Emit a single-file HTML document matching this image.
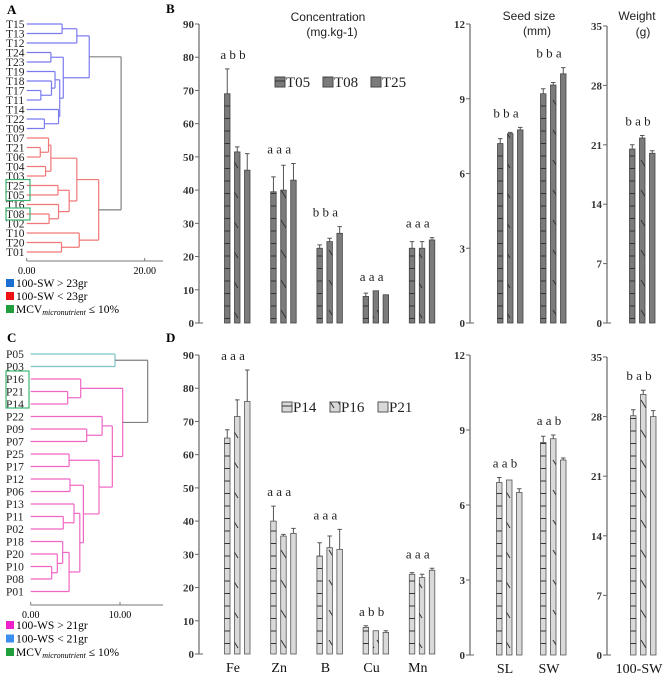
<!DOCTYPE html>
<html><head><meta charset="utf-8">
<style>
html,body{margin:0;padding:0;background:#fff;}
svg{display:block;font-family:"Liberation Serif",serif;}
</style></head>
<body>
<svg id="fig" width="669" height="676" viewBox="0 0 669 676" xmlns="http://www.w3.org/2000/svg">
<defs>
<pattern id="hB" width="8" height="12.5" patternUnits="userSpaceOnUse"><line x1="0" y1="6" x2="8" y2="6" stroke="#333" stroke-width="1"/></pattern>
<pattern id="dB" width="8" height="30" patternUnits="userSpaceOnUse"><line x1="1" y1="10" x2="6" y2="18" stroke="#333" stroke-width="1"/></pattern>
</defs>
<g id="root"></g>
</svg>
<script>
// ---------- Panel B data (T05,T08,T25) ----------
const concCats = ["Fe","Zn","B","Cu","Mn"];
const seriesB = ["T05","T08","T25"];
const concB_T05 = [69, 39.5, 22.5, 8, 22.5];
const concB_T08 = [51.5, 40, 24.5, 9.7, 22.5];
const concB_T25 = [46, 43, 27, 8.5, 25];
const concB_err1 = [7.5, 4.5, 1, 1, 2];
const concB_err2 = [1.5, 7.5, 1, 0, 2];
const concB_err3 = [5, 5, 2, 0, 0.7];
const concB_letters = ["a b b","a a a","b b a","a a a","a a a"];
const sizeCats = ["SL","SW"];
const sizeB_T05 = [7.2, 9.2];
const sizeB_T08 = [7.6, 9.55];
const sizeB_T25 = [7.75, 10];
const sizeB_err1 = [0.2, 0.2];
const sizeB_err2 = [0.05, 0.1];
const sizeB_err3 = [0.1, 0.25];
const sizeB_letters = ["b b a","b b a"];
const weightCats = ["100-SW"];
const weightB_T05 = [20.5];
const weightB_T08 = [21.8];
const weightB_T25 = [20];
const weightB_err1 = [0.5];
const weightB_err2 = [0.3];
const weightB_err3 = [0.3];
const weightB_letters = ["b a b"];
// ---------- Panel D data (P14,P16,P21) ----------
const seriesD = ["P14","P16","P21"];
const concD_P14 = [65, 40, 29.5, 8, 24];
const concD_P16 = [71.5, 35.5, 32, 7, 23];
const concD_P21 = [76, 36.3, 31.5, 6.5, 25.2];
const concD_err1 = [2.5, 4.5, 4, 0.5, 0.5];
const concD_err2 = [5, 0.5, 3.5, 0, 1];
const concD_err3 = [9.5, 1.5, 6, 0.5, 0.6];
const concD_letters = ["a a a","a a a","a a a","a b b","a a a"];
const sizeD_P14 = [6.9, 8.5];
const sizeD_P16 = [7.0, 8.65];
const sizeD_P21 = [6.5, 7.8];
const sizeD_err1 = [0.2, 0.25];
const sizeD_err2 = [0, 0.15];
const sizeD_err3 = [0.15, 0.08];
const sizeD_letters = ["a a b","a a b"];
const weightD_P14 = [28.1];
const weightD_P16 = [30.6];
const weightD_P21 = [28.0];
const weightD_err1 = [0.7];
const weightD_err2 = [0.5];
const weightD_err3 = [0.7];
const weightD_letters = ["b a b"];
const concTicks = [0,10,20,30,40,50,60,70,80,90];
const sizeTicks = [0,3,6,9,12];
const weightTicks = [0,7,14,21,28,35];
// ---------- Dendrogram data: [left, right, height] ----------
const treeA = [[[["T15","T13",6.0],"T12",8.5],[["T24","T23",4.1],[["T19",["T18",["T17","T11",2.4],4.2],4.8],["T14",["T22","T09",3.0],5.4],5.6],6.2],10.6],
  [[[["T07",["T21","T06",2.3],3.7],["T04","T03",3.2],4.1],[["T25","T05",5.3],["T16",["T08","T02",3.8],5.4],7.2],8.5],["T10",["T20","T01",5.9],8.9],12.2],16.0];
const treeC = [["P05","P03",9.44],[["P16",["P21","P14",4.14],5.6],[["P22",["P09","P07",6.27],8.0],[["P25","P17",4.3],[["P12","P06",4.4],[["P13",["P11","P02",3.65],4.85],[["P18",["P20",["P10","P08",2.35],2.98],3.58],"P01",4.3],5.5],5.9],7.65],9.14],10.3],13.1];

const NS = "http://www.w3.org/2000/svg";
const root = document.getElementById("root");
function mk(tag, attrs, parent, text){
  const e = document.createElementNS(NS, tag);
  for (const k in attrs) e.setAttribute(k, attrs[k]);
  if (text !== undefined) e.textContent = text;
  (parent || root).appendChild(e);
  return e;
}

// ---------- dendrogram ----------
function leaves(t){ return typeof t === "string" ? [t] : leaves(t[0]).concat(leaves(t[1])); }
function drawTree(tree, x0, pxPerUnit, yTop, step, colors, g){
  const order = leaves(tree);
  const ypos = {};
  order.forEach((n,i)=>{ ypos[n] = yTop + i*step; });
  function seg(x1,y1,x2,y2,c){
    const l = mk("line",{x1:x1,y1:y1,x2:x2,y2:y2,stroke:c,"stroke-width":1.2},g);
    
    
  }
  function rec(t, c){
    if (typeof t === "string") return {x:x0, y:ypos[t]};
    const a = rec(t[0], c), b = rec(t[1], c);
    const hx = x0 + t[2]*pxPerUnit;
    seg(a.x,a.y,hx,a.y,c);
    seg(b.x,b.y,hx,b.y,c);
    seg(hx,a.y,hx,b.y,c);
    return {x:hx, y:(a.y+b.y)/2};
  }
  const a = rec(tree[0], colors[0]), b = rec(tree[1], colors[1]);
  const hx = x0 + tree[2]*pxPerUnit;
  seg(a.x,a.y,hx,a.y,"#808080");
  seg(b.x,b.y,hx,b.y,"#808080");
  seg(hx,a.y,hx,b.y,"#808080");
  order.forEach(n=>{
    const t = mk("text",{x:6,y:ypos[n]+4,"font-size":11.5,fill:"#222"},g,n);
    
    
  });
  return ypos;
}
const gA = mk("g",{});


mk("text",{x:7,y:14,"font-size":13,"font-weight":"bold"},gA,"A");
const yA = drawTree(treeA, 26.7, 5.9, 24, 9.5, ["#7b7bf0","#f07777"], gA);
mk("rect",{x:6,y:yA["T25"]-6,width:24,height:21,fill:"none",stroke:"#3cb371","stroke-width":1.2},gA);
mk("rect",{x:6,y:yA["T08"]-6,width:24,height:12,fill:"none",stroke:"#3cb371","stroke-width":1.2},gA);
mk("line",{x1:26.7,y1:261,x2:163,y2:261,stroke:"#777"},gA);
[0,20].forEach(v=>{ mk("line",{x1:26.7+v*5.9,y1:258,x2:26.7+v*5.9,y2:261,stroke:"#777"},gA);
  mk("text",{x:26.7+v*5.9,y:274,"font-size":10,"text-anchor":"middle"},gA,v.toFixed(2)); });
const legA = [["#1a6fd1","100-SW > 23gr"],["#ee1111","100-SW < 23gr"],["#1f9e3b","MCV"]];
legA.forEach((l,i)=>{ const y=283+i*13;
  mk("rect",{x:6,y:y-4,width:8,height:8,fill:l[0]},gA);
  const t = mk("text",{x:16,y:y+4,"font-size":11.5},gA);
  
  
  if (i<2) t.textContent=l[1]; else { t.textContent="MCV"; mk("tspan",{"font-size":8,"font-style":"italic","dy":2},t,"micronutrient"); mk("tspan",{"dy":-2},t," \u2264 10%"); }
});

const gC = mk("g",{});


mk("text",{x:7,y:342,"font-size":13,"font-weight":"bold"},gC,"C");
const yC = drawTree(treeC, 30.7, 8.93, 354, 12.5, ["#7cc4c4","#f066c4"], gC);
mk("rect",{x:6,y:yC["P16"]-8,width:23,height:37,fill:"none",stroke:"#3cb371","stroke-width":1.2},gC);
mk("line",{x1:30.7,y1:605,x2:163,y2:605,stroke:"#777"},gC);
[0,10].forEach(v=>{ mk("line",{x1:30.7+v*8.93,y1:602,x2:30.7+v*8.93,y2:605,stroke:"#777"},gC);
  mk("text",{x:30.7+v*8.93,y:618,"font-size":10,"text-anchor":"middle"},gC,v.toFixed(2)); });
const legC = [["#ee22cc","100-WS > 21gr"],["#3a8ff0","100-WS < 21gr"],["#1f9e3b","MCV"]];
legC.forEach((l,i)=>{ const y=625+i*13.5;
  mk("rect",{x:6,y:y-4,width:8,height:8,fill:l[0]},gC);
  const t = mk("text",{x:16,y:y+4,"font-size":11.5},gC);
  
  
  if (i<2) t.textContent=l[1]; else { t.textContent="MCV"; mk("tspan",{"font-size":8,"font-style":"italic","dy":2},t,"micronutrient"); mk("tspan",{"dy":-2},t," \u2264 10%"); }
});

// ---------- bar panels ----------
function barPanel(o){
  const g = mk("g",{});
  
  
  const y = v => o.y0 - (v/o.max)*(o.y0-o.yTop);
  mk("line",{x1:o.ax,y1:o.yTop,x2:o.ax,y2:o.y0,stroke:"#666","stroke-width":1.2},g);
  o.ticks.forEach(t=>{
    mk("line",{x1:o.ax-4,y1:y(t),x2:t===0?o.ax+4:o.ax,y2:y(t),stroke:"#666"},g);
    const tx = mk("text",{x:o.ax-5,y:y(t)+4,"font-size":11,"font-weight":"bold","text-anchor":"end",fill:"#333"},g,String(t));
    
    
  });
  const center = i => o.c0 + i*o.step;
  o.cats.forEach((cat,i)=>{
    let top = Infinity;
    o.vals.forEach((arr,s)=>{
      const x = center(i) - 12.5 + s*10;
      const v = arr[i], e = o.errs[s][i];
      const r = mk("rect",{x:x,y:y(v),width:5.5,height:o.y0-y(v),fill:o.fill,stroke:o.stroke,"stroke-width":0.8},g);
      
      
      if (s<2) mk("rect",{x:x,y:y(v),width:5.5,height:o.y0-y(v),fill:s===0?"url(#hB)":"url(#dB)"},g);
      if (e>0){
        mk("path",{d:`M${x+2.75},${y(v)}V${y(v+e)}M${x+0.5},${y(v+e)}H${x+5}`,stroke:"#555","stroke-width":1,fill:"none"},g);
      }
      top = Math.min(top, y(v+e));
    });
    const lt = mk("text",{x:center(i)-4,y:top-10,"font-size":13,"text-anchor":"middle",fill:"#222"},g,o.letters[i]);
    
    
    if (o.xlabels){
      const xl = mk("text",{x:center(i)-4,y:o.y0+18,"font-size":14,"text-anchor":"middle",fill:"#111"},g,cat);
      
      
    }
  });
}
const darkB = {fill:"#7b7b7b",stroke:"#444"};
const lightD = {fill:"#d9d9d9",stroke:"#555"};
barPanel(Object.assign({name:"conc-chart-b",ax:199,y0:323,yTop:24,max:90,ticks:concTicks,cats:concCats,series:seriesB,c0:237,step:46.2,vals:[concB_T05,concB_T08,concB_T25],errs:[concB_err1,concB_err2,concB_err3],letters:concB_letters},darkB));
barPanel(Object.assign({name:"size-chart-b",ax:470,y0:323,yTop:24,max:12,ticks:sizeTicks,cats:sizeCats,series:seriesB,c0:510,step:43,vals:[sizeB_T05,sizeB_T08,sizeB_T25],errs:[sizeB_err1,sizeB_err2,sizeB_err3],letters:sizeB_letters},darkB));
barPanel(Object.assign({name:"weight-chart-b",ax:607,y0:323,yTop:26,max:35,ticks:weightTicks,cats:weightCats,series:seriesB,c0:642,step:0,vals:[weightB_T05,weightB_T08,weightB_T25],errs:[weightB_err1,weightB_err2,weightB_err3],letters:weightB_letters},darkB));
barPanel(Object.assign({name:"conc-chart-d",ax:199,y0:654,yTop:355,max:90,ticks:concTicks,cats:concCats,series:seriesD,c0:237,step:46.2,vals:[concD_P14,concD_P16,concD_P21],errs:[concD_err1,concD_err2,concD_err3],letters:concD_letters,xlabels:true},lightD));
barPanel(Object.assign({name:"size-chart-d",ax:470,y0:655,yTop:355,max:12,ticks:sizeTicks,cats:sizeCats,series:seriesD,c0:509,step:44,vals:[sizeD_P14,sizeD_P16,sizeD_P21],errs:[sizeD_err1,sizeD_err2,sizeD_err3],letters:sizeD_letters,xlabels:true},lightD));
barPanel(Object.assign({name:"weight-chart-d",ax:607,y0:655,yTop:357,max:35,ticks:weightTicks,cats:weightCats,series:seriesD,c0:643,step:0,vals:[weightD_P14,weightD_P16,weightD_P21],errs:[weightD_err1,weightD_err2,weightD_err3],letters:weightD_letters,xlabels:true},lightD));

// titles & legends
[["B",166,13],["D",166,342]].forEach(p=>{ mk("text",{x:p[1],y:p[2],"font-size":13,"font-weight":"bold"},root,p[0]); });
[["Concentration",328,21],["(mg.kg-1)",332,36],["Seed size",529,20],["(mm)",537,35],["Weight",637,20],["(g)",643,36]].forEach(p=>{
  const t = mk("text",{x:p[1],y:p[2],"font-size":12,"text-anchor":"middle","font-family":"Liberation Sans, sans-serif",fill:"#222"},root,p[0]);
  
  
});
function legend(x0,y0,names,fill,stroke){
  names.forEach((n,i)=>{
    const x = x0 + i*48;
    mk("rect",{x:x,y:y0,width:10,height:10,fill:fill,stroke:stroke},root);
    if (i<2) mk("rect",{x:x,y:y0,width:10,height:10,fill:i===0?"url(#hB)":"url(#dB)"},root);
    const t = mk("text",{x:x+11,y:y0+10,"font-size":15,fill:"#222"},root,n);
    
    
  });
}
legend(275,77,seriesB,"#7b7b7b","#444");
legend(282,402,seriesD,"#d9d9d9","#555");
</script>
</body></html>
